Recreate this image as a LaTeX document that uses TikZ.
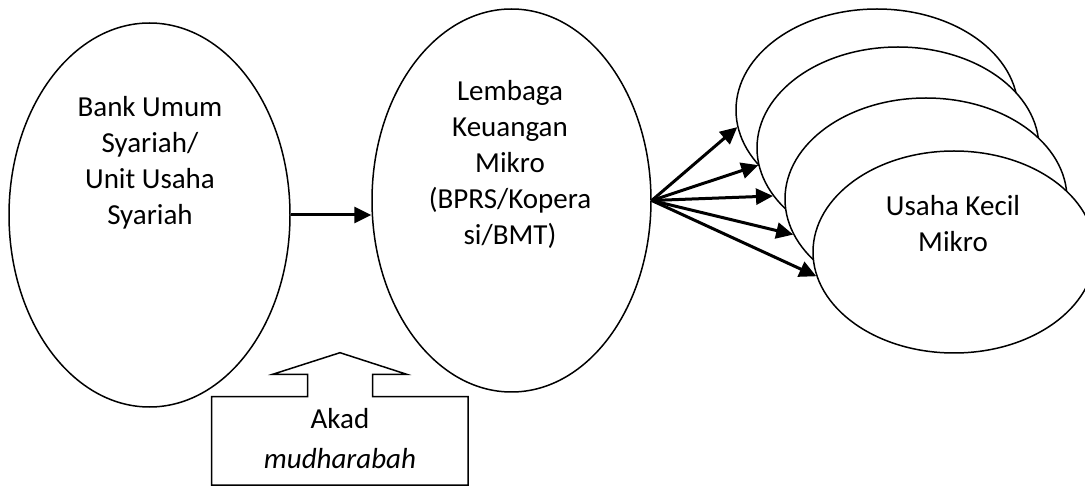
\documentclass[tikz,border=0pt]{standalone}
\usepackage{fontspec}
\setmainfont{Carlito}
\usetikzlibrary{shapes.geometric,arrows.meta}
\tikzset{
  oval/.style={draw, ellipse, fill=white, line width=1.5pt, inner sep=0pt},
  lbl/.style={anchor=north, inner sep=0pt, align=center,
              font=\fontsize{29}{36}\selectfont},
  flow/.style={line width=3pt, -{Triangle[length=17pt,width=16pt]}},
  callout/.style={draw, line width=1.5pt, fill=white, line join=miter}
}
\begin{document}
\begin{tikzpicture}[x=1pt,y=-1pt]
\useasboundingbox[fill=white] (0,0) rectangle (1085,486);

% source bank and micro finance institution
\node[oval, minimum width=281pt, minimum height=384pt] (bank) at (149.5,215) {};
\node[oval, minimum width=279pt, minimum height=383pt] (lkm) at (511.5,200.5) {};
\node[lbl] (banktxt) at (150,90.8) {\strut Bank Umum\\\strut Syariah/\\\strut Unit Usaha\\\strut Syariah};
\node[lbl] (lkmtxt) at (510,74.8) {\strut Lembaga\\\strut Keuangan\\\strut Mikro\\\strut (BPRS/Kopera\\\strut si/BMT)};

% stack of micro businesses, back to front
\node[oval, minimum width=282pt, minimum height=202pt] (u1) at (877,110) {};
\node[oval, minimum width=282pt, minimum height=202pt] (u2) at (898,148) {};
\node[oval, minimum width=282pt, minimum height=202pt] (u3) at (926,199) {};
\node[oval, minimum width=282pt, minimum height=202pt] (u4) at (954,252) {};
\node[lbl] (ukmtxt) at (953,189.8) {\strut Usaha Kecil\\\strut Mikro};

% financing flows
\draw[flow] (bank.east) -- (bank.east -| lkm.west);
\draw[flow] (lkm.east) -- (u1.187);
\draw[flow] (lkm.east) -- (u2.187);
\draw[flow] (lkm.east) -- (u2.201.7);
\draw[flow] (lkm.east) -- (u3.195.3);
\draw[flow] (lkm.east) -- (u4.190.8);

% contract callout pointing up
\draw[callout] (211.7,396.7) -- (307.7,396.7) -- (307.7,374.3) -- (272.7,374.3)
  -- (340,352.7) -- (406.7,374.3) -- (372.7,374.3) -- (372.7,396.7)
  -- (468,396.7) -- (468,485) -- (211.7,485) -- cycle;
\node[lbl] (akad) at (340,402.8) {\strut Akad\\[4pt]\strut\itshape mudharabah};
\end{tikzpicture}
\end{document}
